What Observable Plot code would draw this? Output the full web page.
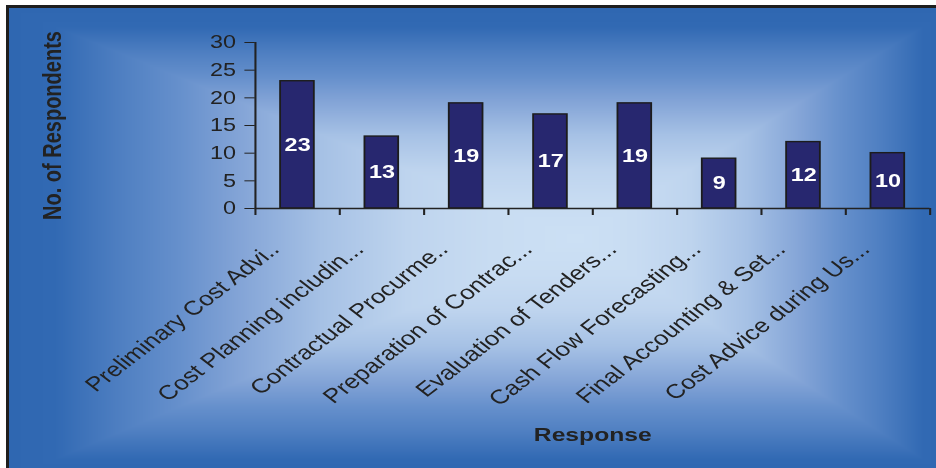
<!DOCTYPE html>
<html>
<head>
<meta charset="utf-8">
<script src="https://cdn.jsdelivr.net/npm/d3@7"></script>
<script src="https://cdn.jsdelivr.net/npm/@observablehq/plot@0.6"></script>
<style>
  html, body { margin: 0; padding: 0; background: #fff; }
  #chart { position: relative; width: 936px; height: 468px; overflow: hidden; background: #fff; }
  #panel { position: absolute; left: 6px; top: 5px; width: 944px; height: 470px;
           border-left: 3px solid #1e1e1e; border-top: 3px solid #1e1e1e;
           overflow: hidden; background: #2f67b1; }
  #panel canvas { position: absolute; left: 0; top: 0; }
  #chart svg { position: absolute; left: 0; top: 0; }
</style>
</head>
<body>
<div id="chart"><div id="panel"></div></div>
<script>
// Survey responses: number of respondents per cost-management service
const categories = [
  "Preliminary Cost Advi..",
  "Cost Planning includin...",
  "Contractual Procurme..",
  "Preparation of Contrac...",
  "Evaluation of Tenders...",
  "Cash Flow Forecasting...",
  "Final Accounting & Set...",
  "Cost Advice during Us..."
];
const respondents = [23, 13, 19, 17, 19, 9, 12, 10];
const yTicks = [0, 5, 10, 15, 20, 25, 30];
const yTitle = "No. of Respondents";
const xTitle = "Response";

// Rectangular "from centre" gradient for the chart area background
const stops = [
  [0, "#2f67b1"], [0.08, "#3169b3"], [0.2, "#5080c2"], [0.3, "#6690cc"],
  [0.4, "#82a3d6"], [0.55, "#a6c1e5"], [0.7, "#bed4ee"], [0.85, "#c8dcf2"], [1, "#cce0f4"]
];
const PW = 944, PH = 470, CX = 568, CY = 230;
(function paintBackground() {
  const canvas = document.createElement("canvas");
  canvas.width = PW; canvas.height = PH;
  const ctx = canvas.getContext("2d");
  const img = ctx.createImageData(PW, PH);
  const ramp = d3.scaleLinear().domain(stops.map(s => s[0])).range(stops.map(s => s[1])).clamp(true);
  const lut = d3.range(0, 1001).map(i => d3.rgb(ramp(i / 1000)));
  for (let y = 0; y < PH; y++) {
    const ty = y < CY ? y / CY : (PH - y) / (PH - CY);
    for (let x = 0; x < PW; x++) {
      const tx = x < CX ? x / CX : (PW - x) / (PW - CX);
      const c = lut[Math.round(Math.min(tx, ty) * 1000)];
      const k = (y * PW + x) * 4;
      img.data[k] = c.r; img.data[k + 1] = c.g; img.data[k + 2] = c.b; img.data[k + 3] = 255;
    }
  }
  ctx.putImageData(img, 0, 0);
  document.getElementById("panel").appendChild(canvas);
})();

// Plot is laid out on a narrower canvas and stretched horizontally to the page width
const W = 720, H = 468;
const margin = {top: 42, right: 5, bottom: 260, left: 196};
const step = (W - margin.left - margin.right) / categories.length;
const pxPerUnit = (H - margin.top - margin.bottom) / 30;
const tickLen = 7 / pxPerUnit;
const ink = "#222";
const data = categories.map((c, i) => ({category: c, value: respondents[i]}));
const first = categories[0], last = categories[categories.length - 1];

const chart = Plot.plot({
  width: W,
  height: H,
  marginTop: margin.top,
  marginRight: margin.right,
  marginBottom: margin.bottom,
  marginLeft: margin.left,
  style: {background: "transparent", fontFamily: "Arial, 'Liberation Sans', sans-serif", fontSize: "18px", color: ink, overflow: "visible"},
  x: {domain: categories, paddingInner: 0.6, paddingOuter: 0.3, round: false, axis: null},
  y: {domain: [0, 30], ticks: yTicks, tickSize: 8, tickPadding: 7, label: null},
  marks: [
    Plot.barY(data, {x: "category", y: "value", fill: "#27276f", stroke: "#1c1c1c", strokeWidth: 1.4}),
    // value axis line and category boundary ticks
    Plot.ruleX([first], {x: d => d, y1: 30, y2: -tickLen, dx: -step / 2, stroke: ink, strokeWidth: 1.6}),
    Plot.ruleX(categories.slice(1), {x: d => d, y1: 0, y2: -tickLen, dx: -step / 2, stroke: ink, strokeWidth: 1.6}),
    Plot.ruleX([last], {x: d => d, y1: 0, y2: -tickLen, dx: step / 2, stroke: ink, strokeWidth: 1.6}),
    Plot.ruleY([0], {stroke: ink, strokeWidth: 1.6}),
    // values inside the bars
    Plot.text(data, {x: "category", y: d => d.value / 2, text: d => String(d.value), fill: "white", fontWeight: "bold", fontSize: 18}),
    // rotated category labels
    Plot.text(data, {x: "category", text: "category", frameAnchor: "bottom", rotate: -45, textAnchor: "end", lineAnchor: "bottom", dx: -13, dy: 42, fontSize: 20, fill: ink}),
    // axis titles
    Plot.text([yTitle], {text: d => d, frameAnchor: "left", textAnchor: "middle", rotate: -90, dx: -156, fontWeight: "bold", fontSize: 20, fill: ink}),
    Plot.text([xTitle], {text: d => d, frameAnchor: "bottom", textAnchor: "middle", lineAnchor: "bottom", dy: 232, fontWeight: "bold", fontSize: 19, fill: ink})
  ]
});
chart.setAttribute("preserveAspectRatio", "none");
chart.style.width = "936px";
chart.style.height = "468px";
chart.style.maxWidth = "none";
document.getElementById("chart").appendChild(chart);
</script>
</body>
</html>
